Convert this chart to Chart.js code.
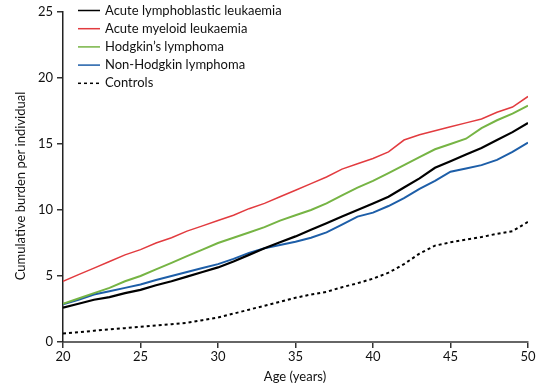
<!DOCTYPE html>
<html>
<head>
<meta charset="utf-8">
<script src="https://cdn.jsdelivr.net/npm/chart.js@4.4.1/dist/chart.umd.min.js"></script>
<style>
  html, body { margin: 0; padding: 0; background: #fff; }
  #wrap { width: 544px; height: 384px; position: relative; }
</style>
</head>
<body>
<div id="wrap"><canvas id="burden-chart" width="544" height="384"></canvas></div>
<script>
// Ages on the x axis (years)
const ages = [20, 21, 22, 23, 24, 25, 26, 27, 28, 29, 30, 31, 32, 33, 34, 35,
              36, 37, 38, 39, 40, 41, 42, 43, 44, 45, 46, 47, 48, 49, 50];

// Cumulative burden per individual
const allValues = [2.6, 2.9, 3.2, 3.4, 3.7, 3.95, 4.3, 4.6, 4.95, 5.3, 5.65, 6.1, 6.6, 7.1, 7.55, 8.0,
                   8.5, 9.0, 9.5, 10.0, 10.5, 11.0, 11.7, 12.4, 13.2, 13.7, 14.2, 14.7, 15.3, 15.9, 16.6];
const amlValues = [4.6, 5.1, 5.6, 6.1, 6.6, 7.0, 7.5, 7.9, 8.4, 8.8, 9.2, 9.6, 10.1, 10.5, 11.0, 11.5,
                   12.0, 12.5, 13.1, 13.5, 13.9, 14.4, 15.3, 15.7, 16.0, 16.3, 16.6, 16.9, 17.4, 17.8, 18.6];
const hodgkinValues = [2.9, 3.3, 3.7, 4.1, 4.6, 5.0, 5.5, 6.0, 6.5, 7.0, 7.5, 7.9, 8.3, 8.7, 9.2, 9.6,
                       10.0, 10.5, 11.1, 11.7, 12.2, 12.8, 13.4, 14.0, 14.6, 15.0, 15.4, 16.2, 16.8, 17.3, 17.9];
const nhlValues = [2.85, 3.2, 3.6, 3.85, 4.1, 4.35, 4.7, 5.0, 5.3, 5.6, 5.9, 6.3, 6.75, 7.1, 7.35, 7.6,
                   7.9, 8.3, 8.9, 9.5, 9.8, 10.3, 10.9, 11.6, 12.2, 12.9, 13.15, 13.4, 13.8, 14.4, 15.1];
const controlValues = [0.65, 0.75, 0.85, 0.95, 1.05, 1.15, 1.25, 1.35, 1.45, 1.65, 1.85, 2.15, 2.45, 2.75, 3.05, 3.35,
                       3.6, 3.8, 4.15, 4.45, 4.8, 5.25, 5.9, 6.7, 7.3, 7.55, 7.75, 7.95, 8.2, 8.4, 9.1];

// Axis ticks
const xTicks = [20, 25, 30, 35, 40, 45, 50];
const yTicks = [0, 5, 10, 15, 20, 25];

const FONT = "Lato, 'Open Sans', sans-serif";

function toPoints(values) {
    return ages.map((a, i) => ({ x: a, y: values[i] }));
}

// Legend and axis titles drawn by hand so they sit where the figure has them
const annotations = {
    id: 'annotations',
    afterDraw(chart) {
        const ctx = chart.ctx;
        ctx.save();
        ctx.font = "13px " + FONT;
        ctx.textBaseline = 'middle';
        chart.data.datasets.forEach((ds, i) => {
            const y = 10.5 + i * 18.2;
            ctx.beginPath();
            ctx.strokeStyle = ds.borderColor;
            ctx.lineWidth = 1.5;
            ctx.setLineDash(ds.borderDash || []);
            ctx.moveTo(78, y);
            ctx.lineTo(100, y);
            ctx.stroke();
            ctx.setLineDash([]);
            ctx.fillStyle = '#111';
            ctx.textAlign = 'left';
            ctx.fillText(ds.label, 105, y);
        });

        ctx.fillStyle = '#111';
        ctx.textAlign = 'center';
        ctx.fillText('Age (years)', 295, 377);

        ctx.translate(21, 186);
        ctx.rotate(-Math.PI / 2);
        ctx.fillText('Cumulative burden per individual', 0, 0);
        ctx.restore();
    }
};

const ctx = document.getElementById("burden-chart").getContext("2d");

const burdenChart = new Chart(ctx, {
    type: 'line',
    data: {
        datasets: [
            {
                label: 'Acute lymphoblastic leukaemia',
                data: toPoints(allValues),
                borderColor: '#000000',
                borderWidth: 2.2
            },
            {
                label: 'Acute myeloid leukaemia',
                data: toPoints(amlValues),
                borderColor: '#e23b3f',
                borderWidth: 1.5
            },
            {
                label: "Hodgkin\u2019s lymphoma",
                data: toPoints(hodgkinValues),
                borderColor: '#76b444',
                borderWidth: 2
            },
            {
                label: 'Non-Hodgkin lymphoma',
                data: toPoints(nhlValues),
                borderColor: '#1d5ea8',
                borderWidth: 2
            },
            {
                label: 'Controls',
                data: toPoints(controlValues),
                borderColor: '#000000',
                borderWidth: 2,
                borderDash: [3, 3]
            }
        ]
    },
    options: {
        responsive: false,
        animation: false,
        layout: { padding: { left: 0, top: 12, right: 16, bottom: 0 } },
        elements: {
            point: { radius: 0 },
            line: { tension: 0, fill: false }
        },
        plugins: {
            legend: { display: false },
            tooltip: { enabled: false }
        },
        scales: {
            x: {
                type: 'linear',
                min: 20,
                max: 50,
                afterFit(scale) { scale.height = 42; },
                afterBuildTicks(scale) { scale.ticks = xTicks.map(v => ({ value: v })); },
                border: { display: true, color: '#666', width: 2 },
                grid: { display: true, drawOnChartArea: false, tickLength: 6, color: '#333', lineWidth: 1.5 },
                ticks: { color: '#111', padding: 1, maxRotation: 0, font: { family: FONT, size: 13 } }
            },
            y: {
                min: 0,
                max: 25,
                afterFit(scale) { scale.width = 63; },
                afterBuildTicks(scale) { scale.ticks = yTicks.map(v => ({ value: v })); },
                border: { display: true, color: '#222', width: 1.5 },
                grid: { display: true, drawOnChartArea: false, tickLength: 6, color: '#333', lineWidth: 1.5 },
                ticks: { color: '#111', padding: 4, font: { family: FONT, size: 13 } }
            }
        }
    },
    plugins: [annotations]
});
</script>
</body>
</html>
